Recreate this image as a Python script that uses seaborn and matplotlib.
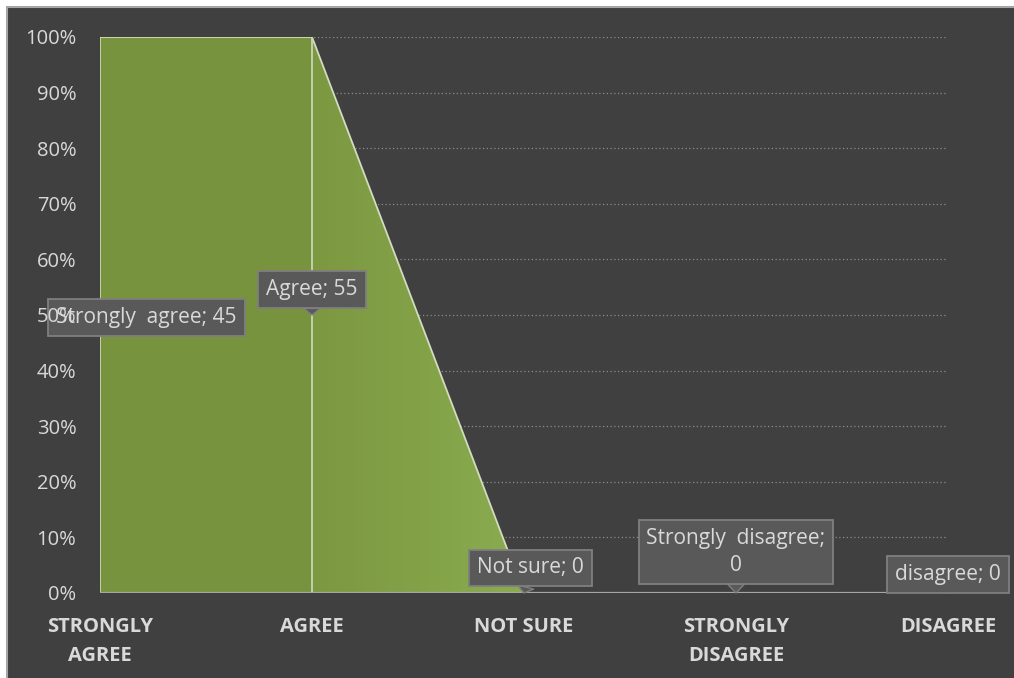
import numpy as np
import pandas as pd
import matplotlib.pyplot as plt
import seaborn as sns
from matplotlib.patches import Rectangle
from matplotlib.colors import LinearSegmentedColormap

# ==========================================
# DATA
# ==========================================

categories = ["STRONGLY\nAGREE", "AGREE", "NOT SURE", "STRONGLY\nDISAGREE", "DISAGREE"]
responses = ["Strongly  agree", "Agree", "Not sure", "Strongly  disagree;\n", "disagree"]
counts = [45, 55, 0, 0, 0]

df = pd.DataFrame({
    "pos": range(len(categories)),
    "category": categories,
    "label": responses,
    "count": counts,
})

# 100% stacked area with a single series: each non-empty point fills its column
df["share"] = np.where(df["count"] > 0, 100.0, 0.0)

# ==========================================
# STYLE
# ==========================================

sns.set_theme(style="dark")
plt.rcParams["font.family"] = ["Open Sans", "DejaVu Sans"]

bg = "#404040"
txt = "#d9d9d9"

fig = plt.figure(figsize=(10.14, 6.78), dpi=100, facecolor="white")
fig.patches.append(Rectangle((7 / 1014, -0.05), 1.1, 1.05 - 7 / 678,
                             transform=fig.transFigure, facecolor=bg,
                             edgecolor="#a6a6a6", linewidth=1.5, zorder=-10))
ax = fig.add_axes([100 / 1014, 85 / 678, 848 / 1014, 556 / 678])
ax.set_facecolor(bg)
ax.patch.set_alpha(0)

# ==========================================
# AREA
# ==========================================

x = df["pos"].values
y = df["share"].values

# first response segment (solid)
ax.fill_between(x[:2], y[:2], color="#78933d", linewidth=0, zorder=2)

# second response segment (light gradient to the right)
poly = ax.fill_between(x[1:3], y[1:3], color="none", linewidth=0, zorder=2)
grad = np.linspace(0, 1, 256).reshape(1, -1)
cmap = LinearSegmentedColormap.from_list("g", ["#7c9841", "#8aac4f"])
im = ax.imshow(grad, extent=[x[1], x[2], 0, 100], aspect="auto",
               cmap=cmap, zorder=2, origin="lower")
im.set_clip_path(poly.get_paths()[0], transform=ax.transData)

sns.lineplot(data=df, x="pos", y="share", color="#d2dcc0",
             linewidth=1.3, ax=ax, zorder=3)
ax.vlines(x[:2], 0, y[:2], color="#c9d5b4", linewidth=1.3, zorder=3)
ax.axhline(0, color="#a6a6a6", linewidth=1.6, zorder=4)

# ==========================================
# AXES
# ==========================================

ax.set_xlim(0, 4)
ax.set_ylim(0, 100)
ax.set_yticks(range(0, 101, 10))
ax.set_yticklabels([f"{v}%" for v in range(0, 101, 10)])
ax.set_xticks(x)
ax.set_xticklabels(categories, fontweight="bold", linespacing=1.6)
ax.tick_params(axis="y", length=0, pad=17, labelsize=14.5, labelcolor=txt)
ax.tick_params(axis="x", length=0, pad=17, labelsize=14.5, labelcolor=txt)
ax.set_xlabel("")
ax.set_ylabel("")
ax.grid(False)
for v in range(10, 101, 10):
    ax.axhline(v, color="#8c8c8c", linewidth=0.9, linestyle=(0, (1, 2)), zorder=1)
for s in ax.spines.values():
    s.set_visible(False)
# percent labels show through the first data label, as in the original
ax.yaxis.set_zorder(7)

# ==========================================
# DATA LABELS
# ==========================================

label_xy = [(0.22, 49.5), (1.0, 54.6), (2.03, 4.5), (3.0, 7.4), (4.0, 3.4)]

for i, row in df.iterrows():
    sep = "" if row["label"].endswith("\n") else "; "
    ax.annotate(
        f"{row['label']}{sep}{row['count']}",
        xy=(row["pos"], row["share"] / 2),
        xytext=label_xy[i],
        textcoords="data",
        ha="center", va="center", multialignment="center",
        fontsize=15, color=txt, zorder=6, linespacing=1.35,
        bbox=dict(boxstyle="square,pad=0.38", fc="#595959", ec="#7f7f7f", lw=1.3),
        arrowprops=dict(arrowstyle="wedge,tail_width=0.8,shrink_factor=0.5",
                        fc="#595959", ec="#7f7f7f", lw=1.0,
                        shrinkA=0, shrinkB=0),
        annotation_clip=False,
    )

plt.savefig("out.png", dpi=100, facecolor=fig.get_facecolor())
